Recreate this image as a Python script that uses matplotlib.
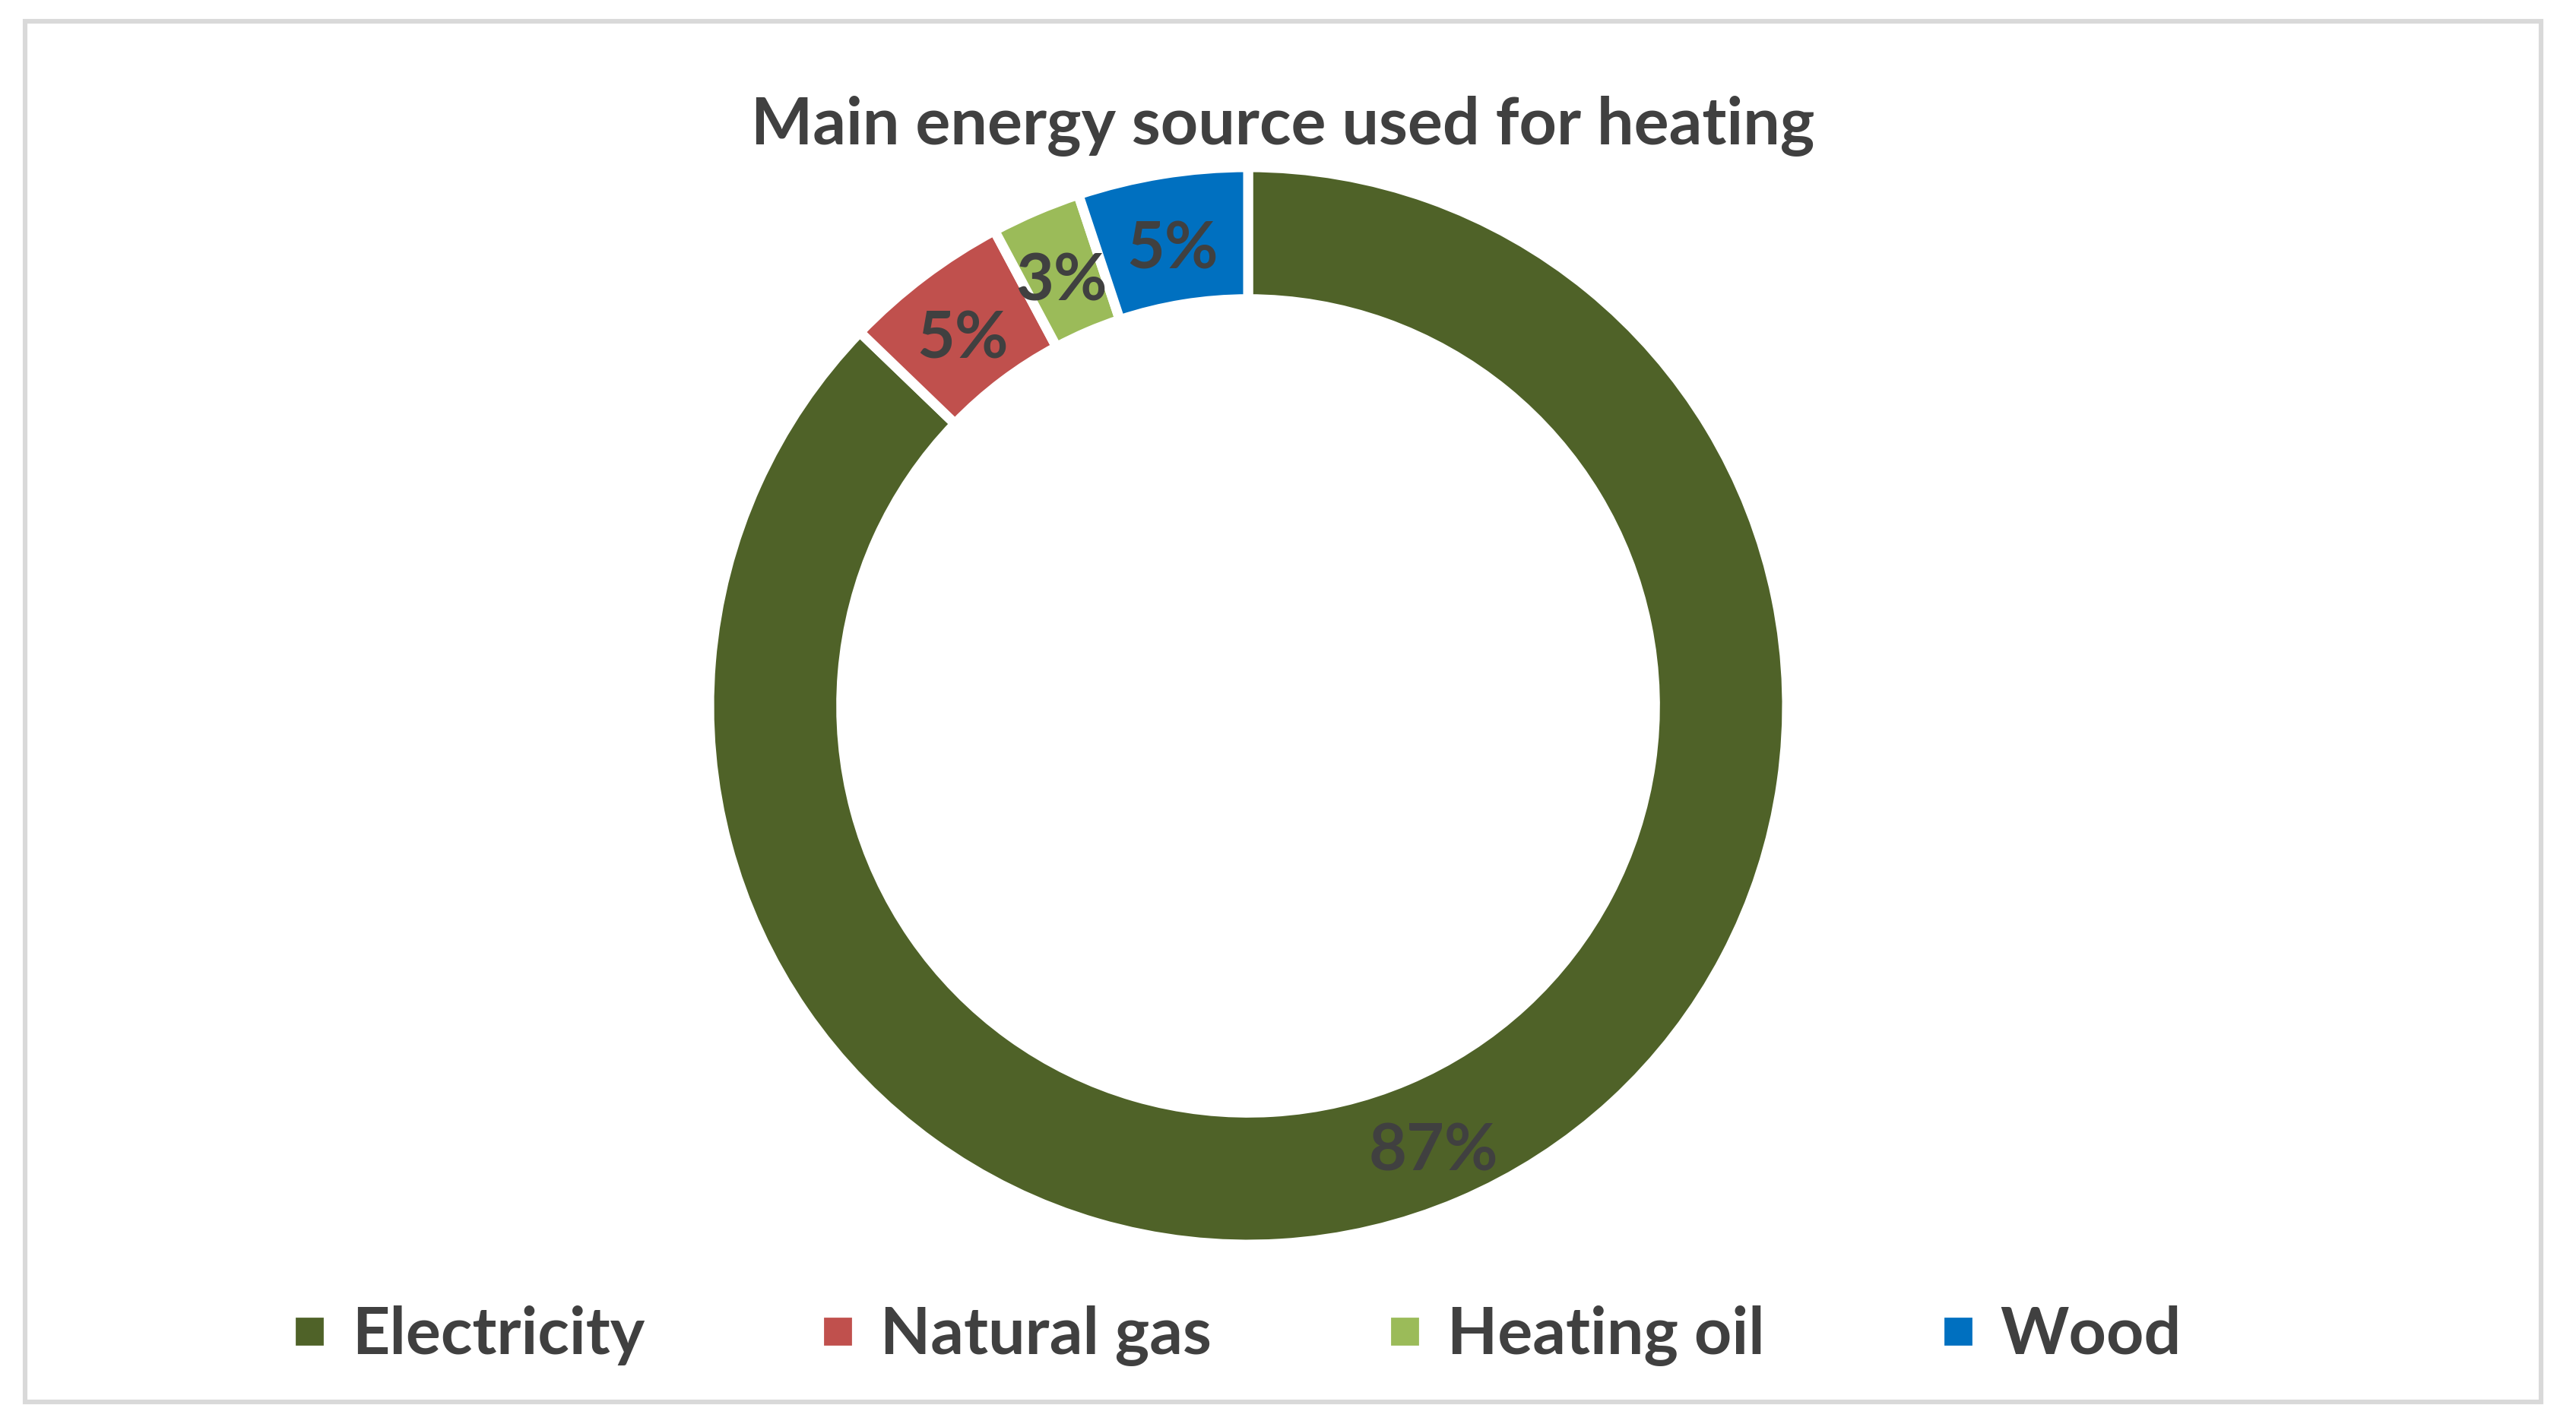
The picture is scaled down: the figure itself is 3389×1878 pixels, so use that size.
import matplotlib
matplotlib.use("Agg")
import matplotlib.pyplot as plt
from matplotlib.lines import Line2D
from matplotlib.patches import Rectangle

# data
sources = ["Electricity", "Natural gas", "Heating oil", "Wood"]
shares = [87.2, 5.0, 2.7, 5.1]
colors = ["#4F6228", "#C0504D", "#9BBB59", "#0070C0"]
title = "Main energy source used for heating"

text_color = "#404040"
plt.rcParams["font.family"] = ["Lato", "DejaVu Sans"]

W, H, dpi = 3389, 1878, 200
fig = plt.figure(figsize=(W / dpi, H / dpi), dpi=dpi)
fig.patch.set_facecolor("white")

# chart border
fig.patches.append(Rectangle((33 / W, 1 - 1845 / H), (3343 - 33) / W, (1845 - 28) / H,
                             transform=fig.transFigure, fill=False,
                             edgecolor="#d9d9d9", linewidth=2.2))

# donut axes: centre (1642, 929) px, outer radius ~709 px
r = 709
cx, cy = 1642, 929
ax = fig.add_axes([(cx - r) / W, (H - cy - r) / H, 2 * r / W, 2 * r / H])
ring = 0.245
wedges, _, pct = ax.pie(shares, colors=colors, startangle=90, counterclock=False,
                        radius=1, autopct="%.0f%%", pctdistance=1 - ring / 2,
                        wedgeprops=dict(width=ring, edgecolor="white", linewidth=4.7),
                        textprops=dict(color=text_color, fontsize=31, fontweight="bold"))
# excel puts the labels a touch lower than the ring centre
for t in pct:
    x, y = t.get_position()
    t.set_position((x, y - 0.02))
ax.set_xlim(-1, 1)
ax.set_ylim(-1, 1)
ax.set_aspect("equal")
ax.axis("off")

fig.text(1688 / W, 1 - 190 / H, title, ha="center", va="baseline",
         fontsize=31, fontweight="bold", color=text_color)

handles = [Line2D([], [], marker="s", linestyle="", markersize=12, color=c) for c in colors]
fig.legend(handles, sources, loc="center", bbox_to_anchor=(1630 / W, 1 - 1758 / H),
           ncol=4, frameon=False, handlelength=0.4, handletextpad=0.45,
           columnspacing=2.75, prop=dict(size=31, weight="bold"), labelcolor=text_color)

fig.savefig("out.png", dpi=dpi, facecolor="white")
